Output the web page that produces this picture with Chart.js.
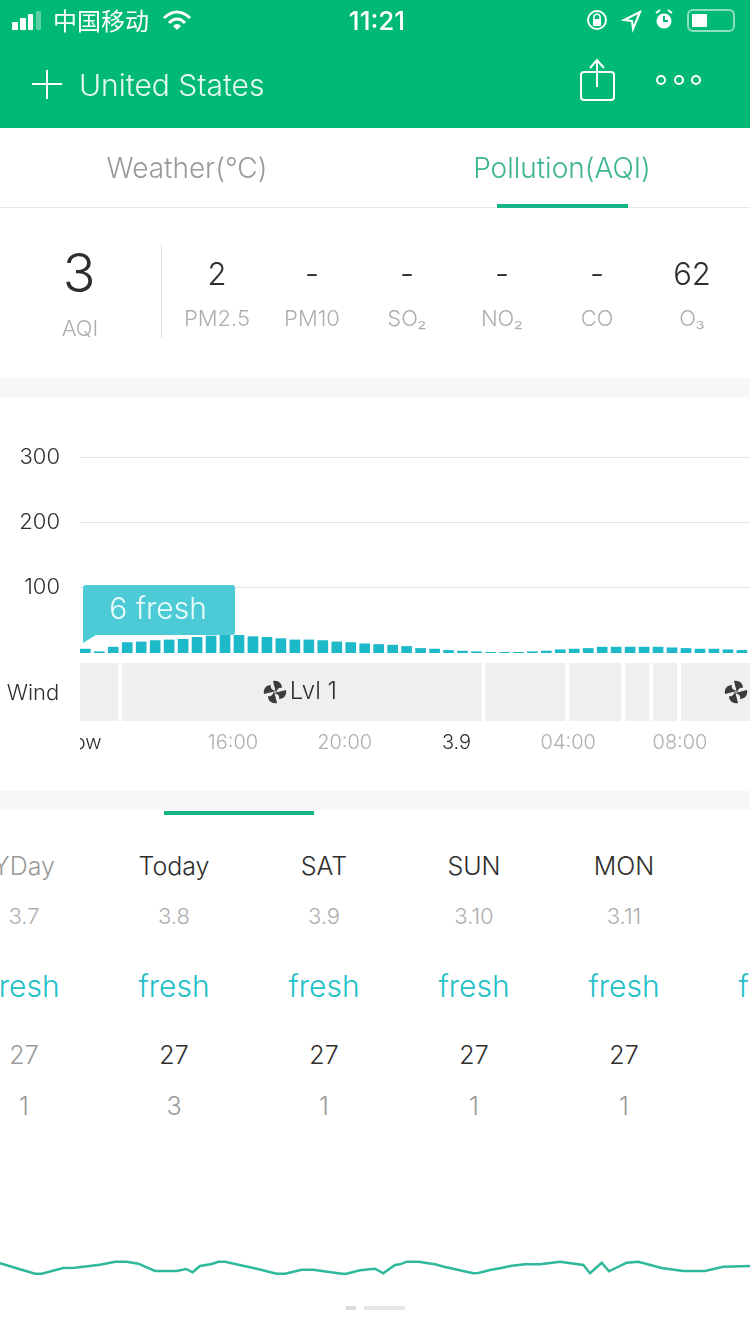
<!DOCTYPE html>
<html>
<head>
<meta charset="utf-8">
<title>Pollution (AQI)</title>
<script src="https://cdn.jsdelivr.net/npm/chart.js@4"></script>
<style>
  html, body { margin: 0; padding: 0; background: #fff; }
  body { position: relative; width: 750px; height: 1334px; overflow: hidden; font-family: Inter, sans-serif; font-weight: 300; }
  .block { position: absolute; }
  .txt { position: absolute; white-space: nowrap; transform: translate(-50%, -50%); line-height: 1; }
  .left { transform: translate(0, -50%); }
  svg { position: absolute; overflow: visible; }
  canvas { position: absolute; }
</style>
</head>
<body>
<div class="block" style="left:0;top:0;width:750px;height:128px;background:#00b975"></div>
<div class="block" style="left:0;top:207px;width:750px;height:1px;background:#e6e6e6"></div>
<div class="block" style="left:497px;top:204px;width:131px;height:4px;background:#14b585"></div>
<div class="block" style="left:161px;top:245px;width:1px;height:93px;background:#dcdcdc"></div>
<div class="block" style="left:0;top:378px;width:750px;height:19px;background:#f7f7f7"></div>
<div class="block" style="left:0;top:791px;width:750px;height:19px;background:#f7f7f7"></div>
<div class="block" style="left:164px;top:811px;width:150px;height:4px;background:#14b585"></div>
<div class="block" style="left:346px;top:1306px;width:10px;height:4px;background:#dcdcdc"></div>
<div class="block" style="left:364px;top:1306px;width:41px;height:4px;background:#e6e6e6"></div>

<svg style="left:0;top:0" width="750" height="128" fill="none" stroke="#fff">
  <!-- signal -->
  <g stroke="none" fill="#fff">
    <rect x="12" y="22" width="6" height="8" rx="1"/>
    <rect x="20" y="18" width="6" height="12" rx="1"/>
    <rect x="28" y="14" width="5" height="16" rx="1"/>
    <rect x="36" y="11" width="5" height="19" rx="1" opacity=".35"/>
  </g>
  <!-- wifi -->
  <path d="M164 18 Q177 6 190 18" stroke-width="3"/>
  <path d="M169 23 Q177 15 185 23" stroke-width="3"/>
  <path d="M173 26 L177 30 L181 26 Q177 22 173 26Z" fill="#fff" stroke="none"/>
  <!-- rotation lock, location, alarm, battery -->
  <circle cx="597" cy="20" r="9" stroke-width="2"/>
  <rect x="593" y="19" width="8" height="7" fill="#fff" stroke="none"/>
  <path d="M594 19 V16 Q597 12 600 16 V19" stroke-width="1.5"/>
  <path d="M640 12 L624 20 L632 21 L633 29 Z" stroke-width="2"/>
  <circle cx="664" cy="21" r="7.5" fill="#fff" stroke="none"/>
  <path d="M664 16 V21 H668" stroke="#00b975" stroke-width="2"/>
  <path d="M656 13 L660 10 M672 13 L668 10" stroke-width="2"/>
  <rect x="688" y="10" width="46" height="21" rx="5" stroke="#8fe0c0" stroke-width="2"/>
  <rect x="692" y="14" width="15" height="13" fill="#fff" stroke="none"/>
  <!-- header icons -->
  <path d="M32 84 H62 M47 70 V99" stroke-width="2"/>
  <rect x="581" y="72" width="33" height="28" rx="3" fill="#00b975" stroke-width="2"/>
  <path d="M597 61 V87 M590 68 L597 60 L604 68" stroke-width="2"/>
  <circle cx="661" cy="80" r="4" stroke-width="2"/>
  <circle cx="679" cy="80" r="4" stroke-width="2"/>
  <circle cx="696" cy="80" r="4" stroke-width="2"/>
</svg>

<canvas id="aqiChart" style="left:0;top:440px" width="750" height="324"></canvas>
<div class="block" style="left:40px;top:730px;width:40px;height:24px;background:#fff"></div>

<svg style="left:0;top:0;pointer-events:none" width="750" height="760" fill="#3c3c3c">
  <defs>
    <path id="blade" d="M1 1 L-2 -11 C3 -12 7 -9 7 -4 C4 -5 2 -3 1 1Z"/>
    <g id="fan">
      <use href="#blade"/>
      <use href="#blade" transform="rotate(90)"/>
      <use href="#blade" transform="rotate(180)"/>
      <use href="#blade" transform="rotate(270)"/>
    </g>
  </defs>
  <use href="#fan" transform="translate(275 692)"/>
  <use href="#fan" transform="translate(736 692)"/>
</svg>

<canvas id="trendChart" style="left:0;top:1240px" width="750" height="46"></canvas>

<script>
// status bar and header
const carrier = '中国移动';
const clock = '11:21';
const place = 'United States';
const tabs = ['Weather(°C)', 'Pollution(AQI)'];

// current readings
const aqiNow = '3';
const pollutantNames = ['PM2.5', 'PM10', 'SO₂', 'NO₂', 'CO', 'O₃'];
const pollutantValues = ['2', '-', '-', '-', '-', '62'];

// hourly chart, one bar every half hour
const aqiValues = [6, 2, 9, 16, 17, 19, 20, 21, 24, 26, 27, 27, 25, 24, 22, 20, 20, 19, 17, 16, 14,
  13, 12, 10, 7, 6, 4, 3, 2, 1, 1, 1, 2, 3, 5, 6, 7, 9, 9, 9, 9, 9, 8, 7, 6, 6, 5, 4];
const yTicks = [100, 200, 300];
const timeLabels = ['Now', '16:00', '20:00', '3.9', '04:00', '08:00'];
const timeSlots = [-0.38, 10.57, 18.57, 26.57, 34.57, 42.57];
const bubbleWord = 'fresh';

// wind blocks, in the same half hour slots
const windStarts = [-1, 2.5, 28.5, 34.5, 38.5, 40.5, 42.5];
const windEnds = [2.5, 28.5, 34.5, 38.5, 40.5, 42.5, 50];
const windLevels = ['', 'Lvl 1', '', '', '', '', ''];

// daily table
const dayNames = ['YDay', 'Today', 'SAT', 'SUN', 'MON', 'TUE'];
const dayDates = ['3.7', '3.8', '3.9', '3.10', '3.11', '3.12'];
const dayQuality = ['fresh', 'fresh', 'fresh', 'fresh', 'fresh', 'fresh'];
const dayWind = ['27', '27', '27', '27', '27', '27'];
const dayLevel = ['1', '3', '1', '1', '1', '1'];

// trend line at the bottom
const trendX = [0, 13.3, 25, 35, 41.7, 63.3, 75, 100, 115, 126.7, 138.3, 155, 176.7, 186, 192.7, 200, 211.7,
  218.3, 225, 256.7, 276.7, 285, 301.7, 313.3, 341.7, 346.7, 360, 375, 383.3, 395, 400, 406.7, 418.3, 435, 445,
  473.3, 478.3, 490, 500, 511.7, 525, 540, 560, 583.3, 590, 601.7, 609, 626.7, 638.3, 661.7, 683.3, 705, 723.3, 750];
const trendY = [22.7, 18.7, 15.3, 12.3, 12.3, 18, 18.3, 21.3, 24.3, 24.3, 22.3, 15, 15, 17, 13.7, 20, 22,
  24.3, 24.3, 17.3, 12.3, 12.3, 16.3, 16.3, 12.3, 12.3, 15.7, 17.3, 12.7, 21, 21.7, 24.3, 24.3, 21.7, 19,
  12.7, 13, 16, 17.7, 20.3, 21.7, 21.7, 24.3, 21, 12.7, 23.3, 14.7, 23.3, 24.3, 18, 15, 15, 19.3, 20];

const COLORS = {
  bar: '#1db9c9',
  bubble: '#4ccbd6',
  trend: '#2fb89c',
  grid: '#e4e4e4',
  wind: '#efefef',
  dark: '#2e2e2e',
  muted: '#aeaeae',
  mid: '#9a9a9a',
  fresh: '#22c1c9'
};
const FONT = 'Inter, sans-serif';

function put(text, x, y, size, color, opts) {
  opts = opts || {};
  const el = document.createElement('div');
  el.className = 'txt' + (opts.left ? ' left' : '');
  el.textContent = text;
  el.style.left = x + 'px';
  el.style.top = y + 'px';
  el.style.fontSize = size + 'px';
  el.style.color = color;
  if (opts.weight) el.style.fontWeight = opts.weight;
  if (opts.family) el.style.fontFamily = opts.family;
  document.body.appendChild(el);
}

put(carrier, 53, 20, 24, '#fff', { left: true, family: "'Noto Sans CJK SC'", weight: 400 });
put(clock, 377, 21, 26, '#fff', { weight: 500 });
put(place, 79, 85, 30, '#e6f9f1', { left: true });
put(tabs[0], 187, 168, 28, COLORS.mid);
put(tabs[1], 562, 168, 28, '#3cb391');

put(aqiNow, 79, 273, 54, COLORS.dark);
put('AQI', 80, 328, 22, COLORS.muted);
const pollutantX = [217, 312, 407, 502, 597, 692];
pollutantNames.forEach((name, i) => {
  put(pollutantValues[i], pollutantX[i], 273, 31, COLORS.dark);
  put(name, pollutantX[i], 318, 22, COLORS.muted);
});

put('Wind', 33, 692, 22, COLORS.dark);

const dayX = [24, 174, 324, 474, 624, 774];
dayNames.forEach((name, i) => {
  const past = i === 0;
  put(name, dayX[i], 866, 25, past ? COLORS.mid : COLORS.dark);
  put(dayDates[i], dayX[i], 916, 22, COLORS.muted);
  put(dayQuality[i], dayX[i], 986, 30, COLORS.fresh);
  put(dayWind[i], dayX[i], 1055, 25, past ? COLORS.mid : COLORS.dark);
  put(dayLevel[i], dayX[i], 1106, 25, COLORS.mid);
});

// wind strip sits between the bars and the time labels
const windStrip = {
  id: 'windStrip',
  beforeDatasetsDraw(chart) {
    const { ctx, scales: { x }, chartArea } = chart;
    const top = chartArea.bottom + 10;
    ctx.save();
    ctx.beginPath();
    ctx.rect(chartArea.left, top, chartArea.width, 58);
    ctx.clip();
    windStarts.forEach((start, i) => {
      const a = x.getPixelForValue(start) + 2;
      const b = x.getPixelForValue(windEnds[i]) - 2;
      ctx.fillStyle = COLORS.wind;
      ctx.fillRect(a, top, b - a, 58);
      if (windLevels[i]) {
        ctx.fillStyle = COLORS.dark;
        ctx.font = '300 24px ' + FONT;
        ctx.textAlign = 'left';
        ctx.textBaseline = 'middle';
        ctx.fillText(windLevels[i], (a + b) / 2 - 12, top + 29);
      }
    });
    ctx.restore();
  }
};

// bubble over the first bar
const freshBubble = {
  id: 'freshBubble',
  afterDatasetsDraw(chart) {
    const { ctx, chartArea } = chart;
    const left = chartArea.left + 3;
    const top = chartArea.bottom - 68;
    ctx.save();
    ctx.fillStyle = COLORS.bubble;
    ctx.beginPath();
    ctx.roundRect(left, top, 152, 50, 3);
    ctx.fill();
    ctx.beginPath();
    ctx.moveTo(left, top + 46);
    ctx.lineTo(left, top + 58);
    ctx.lineTo(left + 13, top + 50);
    ctx.closePath();
    ctx.fill();
    ctx.fillStyle = '#eafbfc';
    ctx.font = '300 30px ' + FONT;
    ctx.textAlign = 'center';
    ctx.textBaseline = 'middle';
    ctx.fillText(aqiValues[0] + ' ' + bubbleWord, left + 75, top + 25);
    ctx.restore();
  }
};

// tick padding would otherwise push the plot area in from the canvas edges
function dropMargins(s) {
  s.paddingLeft = 0;
  s.paddingRight = 0;
  s.paddingTop = 0;
  s.paddingBottom = 0;
}

new Chart(document.getElementById('aqiChart'), {
  type: 'bar',
  data: {
    datasets: [{
      data: aqiValues.map((v, i) => ({ x: i, y: v })),
      backgroundColor: COLORS.bar,
      barThickness: 10
    }]
  },
  plugins: [windStrip, freshBubble],
  options: {
    responsive: false,
    animation: false,
    layout: { padding: { top: 17 } },
    plugins: { legend: { display: false }, tooltip: { enabled: false } },
    scales: {
      x: {
        type: 'linear',
        offset: false,
        min: -0.38,
        max: 47.58,
        grid: { display: false },
        border: { display: false },
        afterBuildTicks: s => { s.ticks = timeSlots.map(value => ({ value })); },
        afterFit: s => { s.height = 111; dropMargins(s); },
        ticks: {
          autoSkip: false,
          maxRotation: 0,
          padding: 70,
          font: { family: FONT, size: 20, weight: 300 },
          color: c => (c.index === 0 || c.index === 3) ? COLORS.dark : COLORS.muted,
          callback: (v, i) => timeLabels[i]
        }
      },
      y: {
        min: 0,
        max: 300,
        border: { display: false },
        grid: { color: COLORS.grid, drawTicks: false },
        afterBuildTicks: s => { s.ticks = yTicks.map(value => ({ value })); },
        afterFit: s => { s.width = 80; dropMargins(s); },
        ticks: {
          padding: 20,
          font: { family: FONT, size: 22, weight: 300 },
          color: COLORS.dark
        }
      }
    }
  }
});

new Chart(document.getElementById('trendChart'), {
  type: 'line',
  data: {
    datasets: [{
      data: trendX.map((x, i) => ({ x, y: trendY[i] })),
      borderColor: COLORS.trend,
      borderWidth: 2.5,
      pointRadius: 0,
      tension: 0
    }]
  },
  options: {
    responsive: false,
    animation: false,
    plugins: { legend: { display: false }, tooltip: { enabled: false } },
    scales: {
      x: { type: 'linear', display: false, min: 0, max: 750 },
      y: { display: false, min: 0, max: 46 }
    }
  }
});
</script>
</body>
</html>
